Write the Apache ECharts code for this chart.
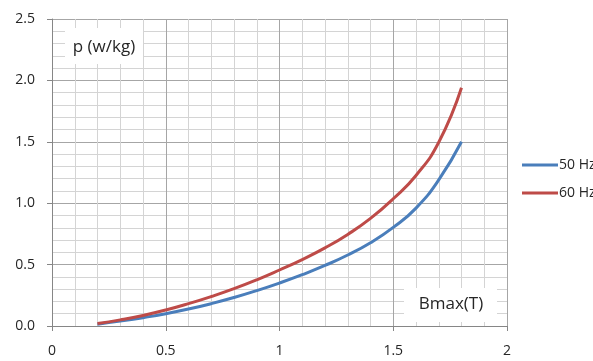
<!DOCTYPE html>
<html>
<head>
<meta charset="utf-8">
<script src="https://cdn.jsdelivr.net/npm/echarts@6/dist/echarts.min.js"></script>
<style>
  html, body { margin: 0; padding: 0; background: #fff; }
  #chart { width: 593px; height: 361px; }
</style>
</head>
<body>
<div id="chart"></div>
<script>
// flux density Bmax (T)
const bmax = [0.2, 0.3, 0.4, 0.5, 0.6, 0.7, 0.8, 0.9, 1.0, 1.1, 1.2, 1.3, 1.4, 1.5, 1.6, 1.7, 1.8];
// core loss p (w/kg)
const loss50 = [0.015, 0.04, 0.068, 0.10, 0.138, 0.182, 0.232, 0.288, 0.35, 0.418, 0.493, 0.578, 0.678, 0.803, 0.96, 1.19, 1.50];
const loss60 = [0.02, 0.05, 0.086, 0.13, 0.182, 0.24, 0.304, 0.376, 0.456, 0.541, 0.636, 0.746, 0.876, 1.036, 1.226, 1.496, 1.94];
const seriesNames = ["50 Hz", "60 Hz"];

const font = "'Open Sans', 'DejaVu Sans', sans-serif";
const textColor = "#262626";

const chart = echarts.init(document.getElementById("chart"));

const pairs = (ys) => bmax.map((x, i) => [x, ys[i]]);

const axisCommon = {
  type: "value",
  interval: 0.5,
  min: 0,
  axisLine: { show: true, lineStyle: { color: "#868686", width: 1 } },
  axisTick: { show: true, length: 5, lineStyle: { color: "#868686" } },
  splitLine: { show: true, lineStyle: { color: "#a6a6a6", width: 1 } },
  minorTick: { show: false, splitNumber: 5 },
  minorSplitLine: { show: true, lineStyle: { color: "#d4d4d4", width: 1 } },
};

const options = {
  animation: false,
  backgroundColor: "#fff",
  grid: {
    left: 52,
    top: 19,
    right: 86,
    bottom: 35,
  },
  xAxis: {
    ...axisCommon,
    max: 2,
    axisLabel: {
      color: textColor,
      fontFamily: font,
      fontSize: 14,
      margin: 18,
      formatter: (v) => String(v),
    },
  },
  yAxis: {
    ...axisCommon,
    max: 2.5,
    axisLabel: {
      color: textColor,
      fontFamily: font,
      fontSize: 14,
      margin: 17,
      formatter: (v) => v.toFixed(1),
    },
  },
  legend: {
    orient: "vertical",
    left: 517,
    top: 153,
    icon: "rect",
    itemWidth: 36,
    itemHeight: 3,
    itemGap: 14,
    data: seriesNames,
    textStyle: { color: textColor, fontFamily: font, fontSize: 14, padding: [0, 0, 0, -4] },
  },
  graphic: [
    {
      type: "rect",
      shape: { x: 65, y: 28, width: 78, height: 36 },
      style: { fill: "#fff" },
      z: 10,
    },
    {
      type: "text",
      x: 104,
      y: 47,
      style: {
        text: "p (w/kg)",
        fill: textColor,
        font: "17px " + font,
        align: "center",
        verticalAlign: "middle",
      },
      z: 11,
    },
    {
      type: "rect",
      shape: { x: 404, y: 288, width: 93, height: 34 },
      style: { fill: "#fff" },
      z: 10,
    },
    {
      type: "text",
      x: 451,
      y: 304,
      style: {
        text: "Bmax(T)",
        fill: textColor,
        font: "17px " + font,
        align: "center",
        verticalAlign: "middle",
      },
      z: 11,
    },
  ],
  series: [
    {
      name: seriesNames[0],
      type: "line",
      smooth: 0.5,
      symbol: "none",
      data: pairs(loss50),
      lineStyle: { color: "#4a7ebb", width: 3 },
      itemStyle: { color: "#4a7ebb" },
      z: 20,
    },
    {
      name: seriesNames[1],
      type: "line",
      smooth: 0.5,
      symbol: "none",
      data: pairs(loss60),
      lineStyle: { color: "#be4b48", width: 3 },
      itemStyle: { color: "#be4b48" },
      z: 21,
    },
  ],
};

chart.setOption(options);
</script>
</body>
</html>
